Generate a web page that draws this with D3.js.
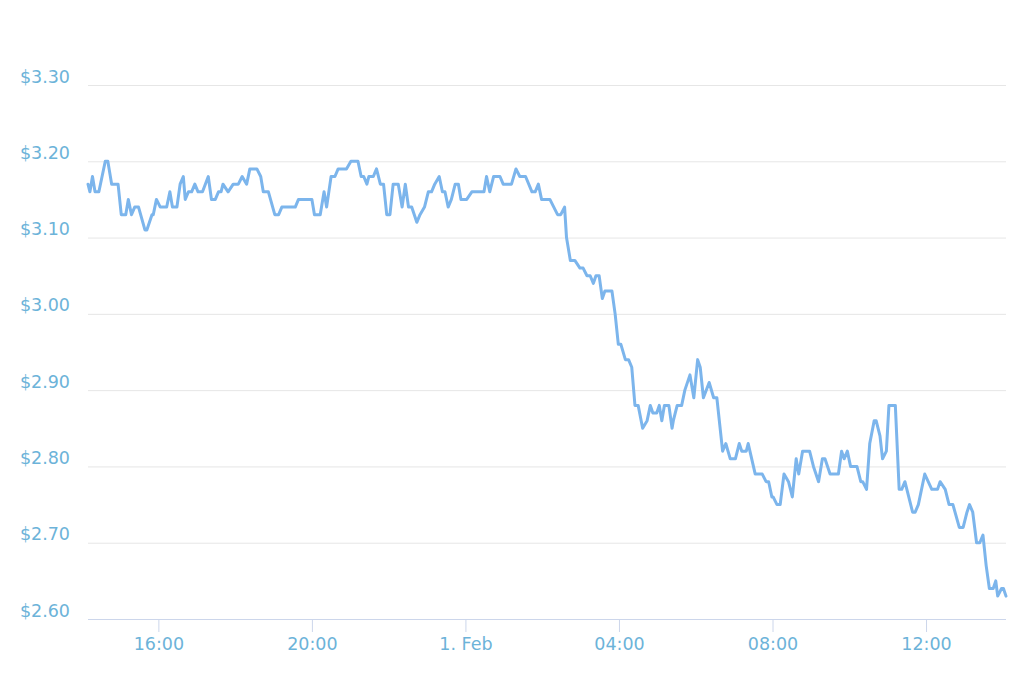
<!DOCTYPE html>
<html>
<head>
<meta charset="utf-8">
<script src="https://cdn.jsdelivr.net/npm/d3@7"></script>
<style>
  html, body { margin: 0; padding: 0; background: #fff; }
  svg { display: block; }
  .tick text { font-family: "DejaVu Sans", Verdana, sans-serif; }
</style>
</head>
<body>
<div id="chart"></div>
<script>
// ---- data ----
const times = [
  "14:10","14:13","14:17","14:21","14:27","14:37","14:41","14:47","14:57","15:02",
  "15:09","15:13","15:18","15:23","15:29","15:39","15:42","15:50","15:52","15:57",
  "16:03","16:13","16:18","16:22","16:29","16:34","16:39","16:42","16:47","16:52",
  "16:57","17:02","17:09","17:18","17:23","17:29","17:34","17:38","17:41","17:49",
  "17:57","18:05","18:11","18:18","18:23","18:34","18:40","18:44","18:52","19:02",
  "19:08","19:13","19:34","19:39","20:00","20:04","20:13","20:19","20:23","20:30",
  "20:36","20:41","20:54","21:01","21:12","21:17","21:21","21:26","21:29","21:36",
  "21:41","21:47","21:52","21:57","22:02","22:07","22:15","22:21","22:26","22:31",
  "22:36","22:44","22:49","22:56","23:02","23:07","23:12","23:19","23:24","23:28",
  "23:33","23:38","23:44","23:49","23:53","00:02","00:10","00:29","00:33","00:38",
  "00:44","00:54","00:59","01:12","01:19","01:25","01:34","01:44","01:49","01:54",
  "01:59","02:12","02:24","02:29","02:35","02:38","02:44","02:51","02:59","03:04",
  "03:10","03:15","03:20","03:24","03:29","03:34","03:38","03:49","03:54","03:59",
  "04:03","04:10","04:15","04:20","04:25","04:30","04:37","04:44","04:49","04:53",
  "04:59","05:03","05:07","05:11","05:18","05:23","05:25","05:31","05:38","05:43",
  "05:51","05:57","06:03","06:07","06:12","06:21","06:28","06:33","06:42","06:47",
  "06:54","07:02","07:08","07:12","07:19","07:22","07:33","07:44","07:50","07:54",
  "07:59","08:01","08:07","08:12","08:18","08:25","08:31","08:37","08:41","08:47",
  "08:58","09:04","09:12","09:18","09:22","09:30","09:43","09:48","09:52","09:57",
  "10:02","10:12","10:18","10:21","10:27","10:32","10:39","10:42","10:48","10:52",
  "10:58","11:02","11:12","11:18","11:22","11:27","11:39","11:43","11:48","11:58",
  "12:09","12:18","12:22","12:30","12:36","12:42","12:52","12:58","13:04","13:08",
  "13:13","13:19","13:24","13:29","13:34","13:39","13:45","13:49","13:52","13:58",
  "14:01","14:05"
];
const prices = [
  3.17,3.16,3.18,3.16,3.16,3.20,3.20,3.17,3.17,3.13,
  3.13,3.15,3.13,3.14,3.14,3.11,3.11,3.13,3.13,3.15,
  3.14,3.14,3.16,3.14,3.14,3.17,3.18,3.15,3.16,3.16,
  3.17,3.16,3.16,3.18,3.15,3.15,3.16,3.16,3.17,3.16,
  3.17,3.17,3.18,3.17,3.19,3.19,3.18,3.16,3.16,3.13,
  3.13,3.14,3.14,3.15,3.15,3.13,3.13,3.16,3.14,3.18,
  3.18,3.19,3.19,3.20,3.20,3.18,3.18,3.17,3.18,3.18,
  3.19,3.17,3.17,3.13,3.13,3.17,3.17,3.14,3.17,3.14,
  3.14,3.12,3.13,3.14,3.16,3.16,3.17,3.18,3.16,3.16,
  3.14,3.15,3.17,3.17,3.15,3.15,3.16,3.16,3.18,3.16,
  3.18,3.18,3.17,3.17,3.19,3.18,3.18,3.16,3.16,3.17,
  3.15,3.15,3.13,3.13,3.14,3.10,3.07,3.07,3.06,3.06,
  3.05,3.05,3.04,3.05,3.05,3.02,3.03,3.03,3.00,2.96,
  2.96,2.94,2.94,2.93,2.88,2.88,2.85,2.86,2.88,2.87,
  2.87,2.88,2.86,2.88,2.88,2.85,2.86,2.88,2.88,2.90,
  2.92,2.89,2.94,2.93,2.89,2.91,2.89,2.89,2.82,2.83,
  2.81,2.81,2.83,2.82,2.82,2.83,2.79,2.79,2.78,2.78,
  2.76,2.76,2.75,2.75,2.79,2.78,2.76,2.81,2.79,2.82,
  2.82,2.80,2.78,2.81,2.81,2.79,2.79,2.82,2.81,2.82,
  2.80,2.80,2.78,2.78,2.77,2.83,2.86,2.86,2.84,2.81,
  2.82,2.88,2.88,2.77,2.77,2.78,2.74,2.74,2.75,2.79,
  2.77,2.77,2.78,2.77,2.75,2.75,2.72,2.72,2.74,2.75,
  2.74,2.70,2.70,2.71,2.67,2.64,2.64,2.65,2.63,2.64,
  2.64,2.63
];
const yTicks = [2.6, 2.7, 2.8, 2.9, 3.0, 3.1, 3.2, 3.3];
const xTickLabels = ["16:00", "20:00", "1. Feb", "04:00", "08:00", "12:00"];
const xTickTimes = ["2018-01-31T16:00", "2018-01-31T20:00", "2018-02-01T00:00",
                    "2018-02-01T04:00", "2018-02-01T08:00", "2018-02-01T12:00"];

// ---- build dated series (times wrap past midnight into Feb 1) ----
const data = [];
let day = 31, prevMin = -1;
times.forEach((t, i) => {
  const [h, m] = t.split(":").map(Number);
  const mins = h * 60 + m;
  if (mins < prevMin) day = 1;
  prevMin = mins;
  const d = day === 31 ? new Date(2018, 0, 31, h, m) : new Date(2018, 1, 1, h, m);
  data.push({ date: d, value: prices[i] });
});
const tickDates = xTickTimes.map(s => new Date(s));

// ---- layout ----
const W = 1024, H = 682;
const plot = { left: 88, right: 1006, top: 85, bottom: 619 };

const svg = d3.select("#chart").append("svg")
  .attr("width", W).attr("height", H);

const x = d3.scaleTime()
  .domain(d3.extent(data, d => d.date))
  .range([plot.left, plot.right]);
const y = d3.scaleLinear()
  .domain([2.6, 3.3])
  .range([plot.bottom, plot.top]);

const labelColor = "#6cb3d9";
const fontSize = "17.5px";

// gridlines + y labels
const yAxis = d3.axisLeft(y)
  .tickValues(yTicks)
  .tickSize(-(plot.right - plot.left))
  .tickFormat(d => "$" + d3.format(".2f")(d));
const gy = svg.append("g")
  .attr("transform", `translate(${plot.left},0)`)
  .call(yAxis);
gy.select(".domain").remove();
gy.selectAll(".tick line").attr("stroke", "#e6e6e6").attr("stroke-width", 1);
gy.selectAll(".tick text")
  .attr("x", -18)
  .attr("dy", "-0.17em")
  .attr("fill", labelColor)
  .style("font-size", fontSize)
  .attr("text-anchor", "end");

// x axis
const xAxis = d3.axisBottom(x)
  .tickValues(tickDates)
  .tickSize(13)
  .tickPadding(6)
  .tickFormat((d, i) => xTickLabels[i]);
const gx = svg.append("g")
  .attr("transform", `translate(0,${plot.bottom})`)
  .call(xAxis);
gx.select(".domain").attr("stroke", "#ccd6eb").attr("d", `M${plot.left},0.5H${plot.right}`);
gx.selectAll(".tick line").attr("stroke", "#ccd6eb");
gx.selectAll(".tick text")
  .attr("fill", labelColor)
  .style("font-size", fontSize);

// line
const line = d3.line()
  .x(d => x(d.date))
  .y(d => y(d.value));
svg.append("path")
  .datum(data)
  .attr("fill", "none")
  .attr("stroke", "#7cb5ec")
  .attr("stroke-width", 3)
  .attr("stroke-linejoin", "round")
  .attr("stroke-linecap", "round")
  .attr("d", line);
</script>
</body>
</html>
